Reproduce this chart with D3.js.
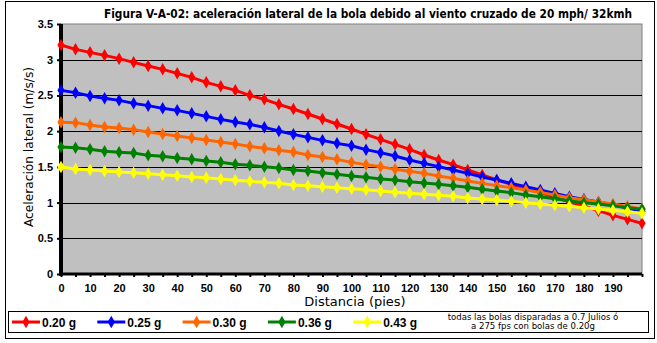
<!DOCTYPE html>
<html><head><meta charset="utf-8">
<script src="https://cdn.jsdelivr.net/npm/d3@7"></script>
<style>body{margin:0;background:#fff}svg{display:block}</style>
</head><body>
<svg id="c" width="657" height="343"></svg>
<script>
const distances = [0,5,10,15,20,25,30,35,40,45,50,55,60,65,70,75,80,85,90,95,100,105,110,115,120,125,130,135,140,145,150,155,160,165,170,175,180,185,190,195,200];
const seriesNames = ["0.20 g","0.25 g","0.30 g","0.36 g","0.43 g"];
const seriesColors = ["#FF0000","#0000FF","#FF6600","#008000","#FFFF00"];
const s020 = [3.206,3.145,3.103,3.061,3.015,2.963,2.912,2.865,2.809,2.753,2.683,2.627,2.571,2.501,2.445,2.375,2.310,2.240,2.170,2.100,2.030,1.955,1.885,1.815,1.745,1.666,1.596,1.531,1.456,1.386,1.316,1.255,1.195,1.139,1.075,1.010,0.950,0.887,0.821,0.765,0.709];
const s025 = [2.571,2.539,2.492,2.459,2.431,2.389,2.357,2.319,2.291,2.249,2.207,2.165,2.128,2.095,2.053,2.002,1.955,1.913,1.871,1.829,1.795,1.741,1.699,1.652,1.596,1.549,1.503,1.456,1.409,1.358,1.316,1.269,1.223,1.176,1.129,1.083,1.045,1.008,0.971,0.924,0.877];
const s030 = [2.123,2.119,2.086,2.058,2.044,2.021,1.988,1.960,1.932,1.904,1.876,1.848,1.820,1.787,1.759,1.731,1.708,1.666,1.638,1.605,1.563,1.531,1.503,1.465,1.437,1.409,1.372,1.339,1.302,1.269,1.237,1.209,1.176,1.143,1.106,1.069,1.041,1.008,0.980,0.947,0.912];
const s036 = [1.778,1.769,1.745,1.717,1.703,1.694,1.661,1.647,1.624,1.605,1.582,1.563,1.535,1.521,1.503,1.484,1.456,1.442,1.419,1.395,1.372,1.353,1.330,1.316,1.293,1.274,1.255,1.237,1.213,1.185,1.162,1.139,1.106,1.083,1.055,1.027,0.999,0.980,0.957,0.929,0.905];
const s043 = [1.498,1.470,1.456,1.442,1.428,1.419,1.405,1.391,1.377,1.358,1.349,1.330,1.311,1.297,1.283,1.269,1.246,1.237,1.223,1.209,1.195,1.181,1.162,1.143,1.129,1.115,1.101,1.087,1.064,1.050,1.036,1.017,0.999,0.980,0.961,0.947,0.929,0.910,0.891,0.873,0.849];
const seriesValues = [s020,s025,s030,s036,s043];
const yTicks = [0,0.5,1,1.5,2,2.5,3,3.5];
const xTickLabels = [0,10,20,30,40,50,60,70,80,90,100,110,120,130,140,150,160,170,180,190];
const titleText = "Figura V-A-02: aceleración lateral de la bola debido al viento cruzado de 20 mph/ 32kmh";
const yTitle = "Aceleración lateral (m/s/s)";
const xTitle = "Distancia (pies)";
const noteLines = ["todas las bolas disparadas a 0.7 Julios ó","a 275 fps con bolas de 0.20g"];

const svg = d3.select("#c");
const L=61,R=642,T=24,B=274;
const x = d3.scaleLinear().domain([0,200]).range([L,R]);
const y = d3.scaleLinear().domain([0,3.5]).range([B,T]);

// outer border
svg.append("rect").attr("x",5.5).attr("y",1.5).attr("width",649).attr("height",337)
  .attr("fill","#fff").attr("stroke","#000").attr("stroke-width",1);

// plot area
svg.append("rect").attr("x",L).attr("y",T).attr("width",R-L).attr("height",B-T)
  .attr("fill","#C0C0C0").attr("stroke","#808080").attr("stroke-width",1);

// gridlines
svg.append("g").selectAll("line").data(yTicks.filter(d=>d>0&&d<3.5)).join("line")
  .attr("x1",L).attr("x2",R).attr("y1",d=>Math.round(y(d))+0.5).attr("y2",d=>Math.round(y(d))+0.5)
  .attr("stroke","#000").attr("stroke-width",1);

// y axis
const yAxis = d3.axisLeft(y).tickValues(yTicks).tickSize(4).tickPadding(4).tickFormat(d3.format("~g"));
const gy = svg.append("g").attr("transform",`translate(${L},0)`).call(yAxis);
gy.select(".domain").remove();
gy.selectAll(".tick line").attr("stroke","#000").attr("stroke-width",2);
gy.selectAll(".tick text").attr("font-family","Liberation Sans, Arial, sans-serif").attr("font-weight","bold").attr("font-size","11px").attr("fill","#000");

// x axis
const xAxis = d3.axisBottom(x).tickValues(distances).tickSize(3).tickPadding(7)
  .tickFormat(d=> xTickLabels.includes(d)? String(d): "");
const gx = svg.append("g").attr("transform",`translate(0,${B})`).call(xAxis);
gx.select(".domain").remove();
gx.selectAll(".tick line").attr("stroke","#000").attr("stroke-width",2);
gx.selectAll(".tick text").attr("font-family","Liberation Sans, Arial, sans-serif").attr("font-weight","bold").attr("font-size","11px").attr("fill","#000");

// thick axis lines
svg.append("line").attr("x1",L).attr("x2",L).attr("y1",T).attr("y2",B+1.5).attr("stroke","#000").attr("stroke-width",4);
svg.append("line").attr("x1",L-2).attr("x2",R).attr("y1",B).attr("y2",B).attr("stroke","#000").attr("stroke-width",3);

// series
const line = d3.line().x((d,i)=>x(distances[i])).y(d=>y(d));
const diamond = d3.symbol().type(d3.symbolDiamond).size(45);
seriesValues.forEach((vals,k)=>{
  const g = svg.append("g");
  g.append("path").attr("d",line(vals)).attr("fill","none").attr("stroke",seriesColors[k]).attr("stroke-width",3);
  g.selectAll("path.m").data(vals).join("path").attr("class","m")
    .attr("d",diamond).attr("transform",(d,i)=>`translate(${x(distances[i])},${y(d)})`)
    .attr("fill",seriesColors[k]);
});

// titles
svg.append("text").attr("x",368).attr("y",18).attr("text-anchor","middle")
  .attr("font-family","DejaVu Sans Condensed, DejaVu Sans, sans-serif").attr("font-weight","bold").attr("font-size","12px")
  .attr("textLength",528).attr("lengthAdjust","spacingAndGlyphs").text(titleText);
svg.append("text").attr("transform","translate(33,147) rotate(-90)").attr("text-anchor","middle")
  .attr("font-family","DejaVu Sans, sans-serif").attr("font-size","13px")
  .attr("textLength",160).attr("lengthAdjust","spacingAndGlyphs").text(yTitle);
svg.append("text").attr("x",355).attr("y",306).attr("text-anchor","middle")
  .attr("font-family","DejaVu Sans, sans-serif").attr("font-size","13px").text(xTitle);

// legend
svg.append("rect").attr("x",8.5).attr("y",311.5).attr("width",640).attr("height",21)
  .attr("fill","#fff").attr("stroke","#000").attr("stroke-width",1);
const lg = svg.append("g").selectAll("g").data(seriesNames).join("g")
  .attr("transform",(d,i)=>`translate(${12+i*85.3},322)`);
lg.append("line").attr("x1",0).attr("x2",28).attr("stroke",(d,i)=>seriesColors[i]).attr("stroke-width",3);
lg.append("path").attr("d",diamond).attr("transform","translate(14,0)").attr("fill",(d,i)=>seriesColors[i]);
lg.append("text").attr("x",30).attr("y",5).attr("font-family","Liberation Sans, Arial, sans-serif")
  .attr("font-weight","bold").attr("font-size","13px").attr("textLength",34).attr("lengthAdjust","spacingAndGlyphs").text(d=>d);
svg.append("g").selectAll("text").data(noteLines).join("text")
  .attr("x",533).attr("y",(d,i)=>319.5+i*9.5).attr("text-anchor","middle")
  .attr("font-family","DejaVu Sans Condensed, DejaVu Sans, sans-serif").attr("font-size","9.5px").text(d=>d);
</script>
</body></html>
